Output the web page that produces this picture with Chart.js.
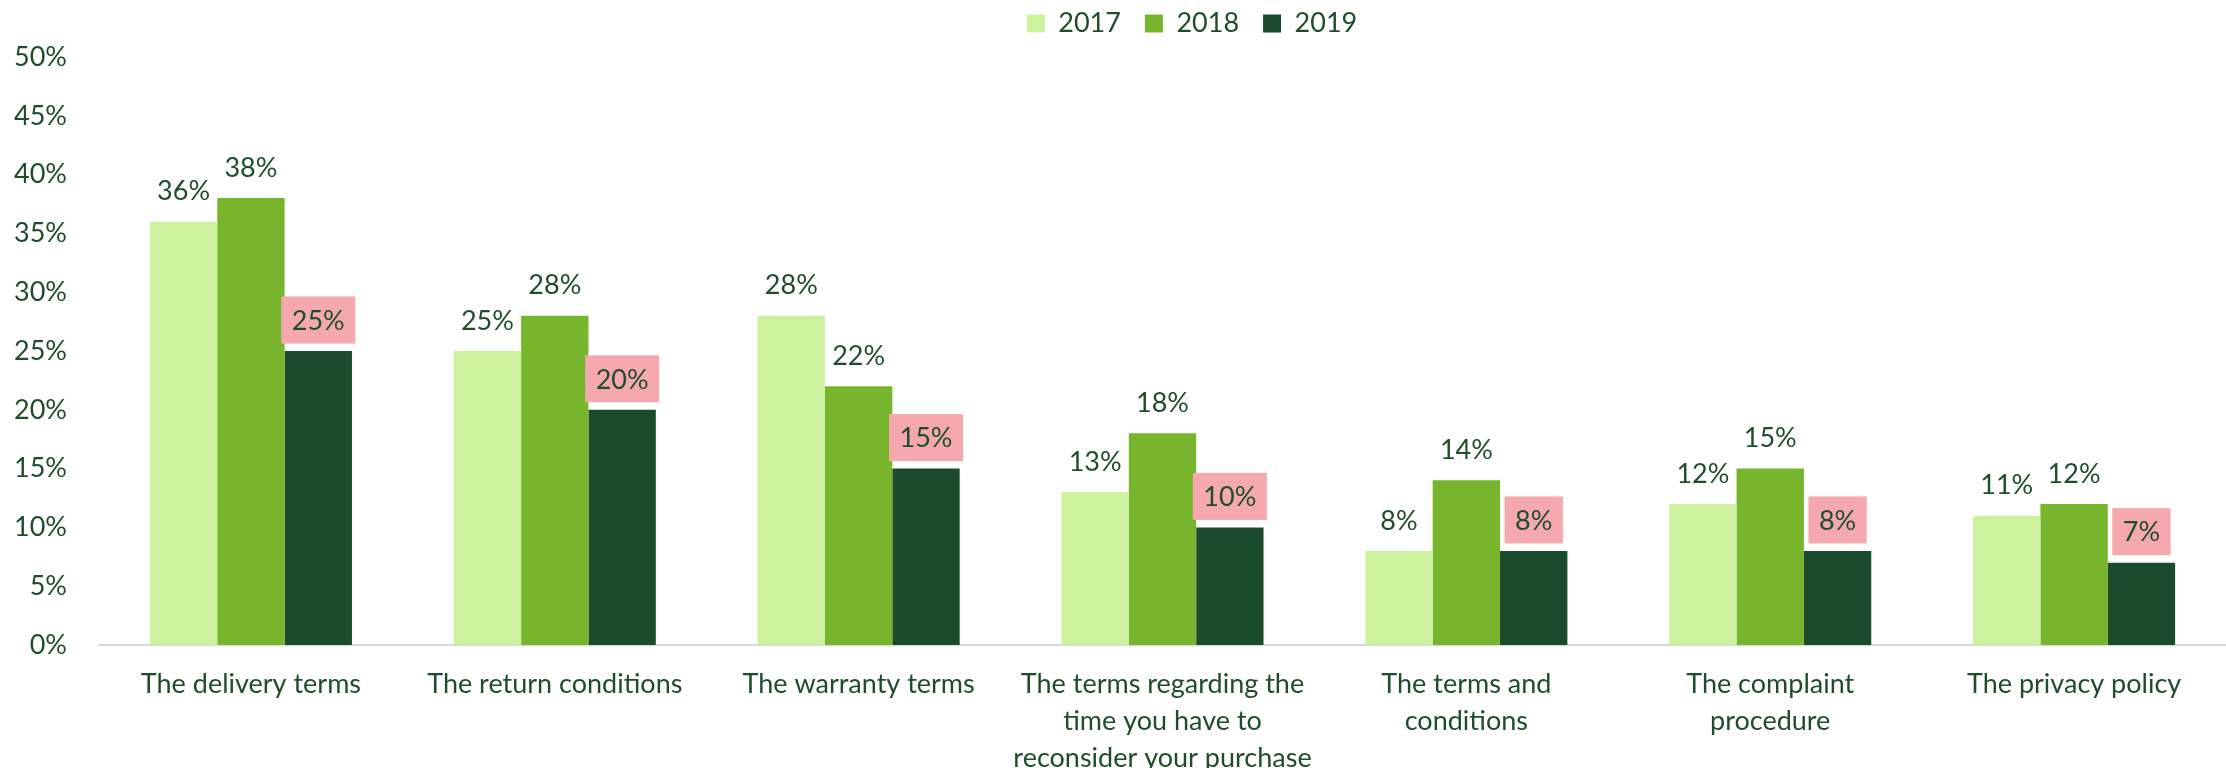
<!DOCTYPE html>
<html>
<head>
<meta charset="utf-8">
<script src="https://cdn.jsdelivr.net/npm/chart.js@4.4.1/dist/chart.umd.min.js"></script>
<style>
  html, body { margin: 0; padding: 0; background: #ffffff; overflow: hidden; }
  #wrap { width: 2226px; height: 768px; position: relative; }
</style>
</head>
<body>
<div id="wrap"><canvas id="c"></canvas></div>
<script>
const categories = [
  'The delivery terms',
  'The return conditions',
  'The warranty terms',
  ['The terms regarding the', 'time you have to', 'reconsider your purchase'],
  ['The terms and', 'conditions'],
  ['The complaint', 'procedure'],
  'The privacy policy'
];
const seriesNames = ['2017', '2018', '2019'];
const values2017 = [36, 25, 28, 13, 8, 12, 11];
const values2018 = [38, 28, 22, 18, 14, 15, 12];
const values2019 = [25, 20, 15, 10, 8, 8, 7];
const yTicks = [0, 5, 10, 15, 20, 25, 30, 35, 40, 45, 50];

const TEXT = '#1F4D2C';
const COLORS = ['#CCF29E', '#77B52C', '#1C4A2C'];
const PINK = '#F5A8AE';
const FONT = 'Lato';

const labelPlugin = {
  id: 'valueLabels',
  afterLayout(chart) {
    const lg = chart.legend;
    if (lg) {
      lg.left += 79; lg.right += 79;
      lg.top -= 10; lg.bottom -= 10;
    }
  },
  afterDatasetsDraw(chart) {
    const ctx = chart.ctx;
    ctx.save();
    ctx.font = '27px ' + FONT;
    ctx.textAlign = 'center';
    ctx.textBaseline = 'middle';
    chart.data.datasets.forEach((ds, di) => {
      const meta = chart.getDatasetMeta(di);
      meta.data.forEach((bar, i) => {
        const txt = ds.data[i] + '%';
        const cx = bar.x;
        const cy = bar.y - 31;
        if (di === 2) {
          const w = ctx.measureText(txt).width + 21;
          const h = 47;
          ctx.fillStyle = PINK;
          ctx.fillRect(cx - w / 2, cy - h / 2, w, h);
        }
        ctx.fillStyle = TEXT;
        ctx.fillText(txt, cx, cy + 1);
      });
    });
    ctx.restore();
  }
};

new Chart(document.getElementById('c'), {
  type: 'bar',
  data: {
    labels: categories,
    datasets: [
      { label: seriesNames[0], data: values2017, backgroundColor: COLORS[0] },
      { label: seriesNames[1], data: values2018, backgroundColor: COLORS[1] },
      { label: seriesNames[2], data: values2019, backgroundColor: COLORS[2] }
    ]
  },
  options: {
    responsive: true,
    maintainAspectRatio: false,
    animation: false,
    layout: { padding: { top: -4, left: 0, right: 0, bottom: 0 } },
    datasets: { bar: { categoryPercentage: 0.665, barPercentage: 1.0 } },
    plugins: {
      legend: {
        position: 'top',
        align: 'center',
        labels: {
          boxWidth: 18,
          boxHeight: 18,
          padding: 24,
          color: TEXT,
          font: { family: FONT, size: 27 }
        }
      },
      tooltip: { enabled: false }
    },
    scales: {
      x: {
        grid: { display: false, drawTicks: false },
        border: { display: true, color: '#D9D9D9', width: 2 },
        ticks: {
          color: TEXT,
          padding: 21,
          maxRotation: 0,
          autoSkip: false,
          font: { family: FONT, size: 27, lineHeight: 1.36 }
        },
        afterFit(scale) { scale.height = 123; }
      },
      y: {
        min: 0,
        max: 50,
        grid: { display: false, drawTicks: false },
        border: { display: false },
        afterBuildTicks(scale) { scale.ticks = yTicks.map(v => ({ value: v })); },
        ticks: {
          color: TEXT,
          padding: 32,
          font: { family: FONT, size: 27 },
          callback: (v) => v + '%'
        },
        afterFit(scale) { scale.width = 99; }
      }
    }
  },
  plugins: [labelPlugin]
});
</script>
</body>
</html>
